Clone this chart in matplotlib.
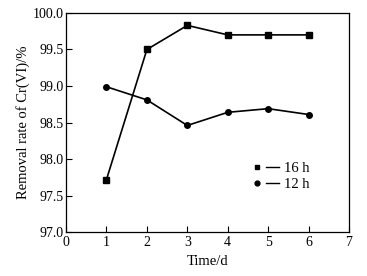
import matplotlib
matplotlib.use('Agg')
import matplotlib.pyplot as plt
from matplotlib.lines import Line2D
from matplotlib.legend_handler import HandlerTuple

plt.rcParams['font.family'] = ['Liberation Serif', 'DejaVu Serif']

# data
days = [1, 2, 3, 4, 5, 6]
rate_16h = [97.72, 99.50, 99.83, 99.70, 99.70, 99.70]
rate_12h = [98.99, 98.81, 98.46, 98.64, 98.69, 98.61]

fig = plt.figure(figsize=(3.67, 2.76), dpi=100)
ax = fig.add_axes([0.18, 0.159, 0.771, 0.794])

ax.plot(days, rate_16h, color='black', lw=1.2, marker='s', ms=4.5)
ax.plot(days, rate_12h, color='black', lw=1.2, marker='o', ms=4)

ax.set_xlim(0, 7)
ax.set_ylim(97.0, 100.0)
ax.set_xticks(range(0, 8))
ax.set_yticks([97.0, 97.5, 98.0, 98.5, 99.0, 99.5, 100.0])
ax.set_yticklabels(['97.0', '97.5', '98.0', '98.5', '99.0', '99.5', '100.0'])
ax.tick_params(direction='in', length=4, width=0.8, labelsize=10,
               top=False, right=False)
ax.tick_params(axis='x', pad=3)
ax.tick_params(axis='y', pad=2)
for s in ax.spines.values():
    s.set_linewidth(0.9)

ax.set_xlabel('Time/d', fontsize=10.5, labelpad=4)
ax.set_ylabel('Removal rate of Cr(VI)/%', fontsize=10.5, labelpad=2)

# legend: marker then short line, as in the figure
sq = Line2D([], [], color='black', marker='s', ms=3.5, ls='none')
ci = Line2D([], [], color='black', marker='o', ms=3.5, ls='none')
ln = Line2D([], [], color='black', lw=1.0)
ax.legend([(sq, ln), (ci, ln)], ['16 h', '12 h'],
          handler_map={tuple: HandlerTuple(ndivide=None, pad=0.2)},
          loc='lower left', bbox_to_anchor=(0.625, 0.155), frameon=False,
          fontsize=10.5, handlelength=2.0, handletextpad=0.3,
          labelspacing=0.2, borderpad=0)

fig.savefig('out.png', dpi=100)
plt.close(fig)
